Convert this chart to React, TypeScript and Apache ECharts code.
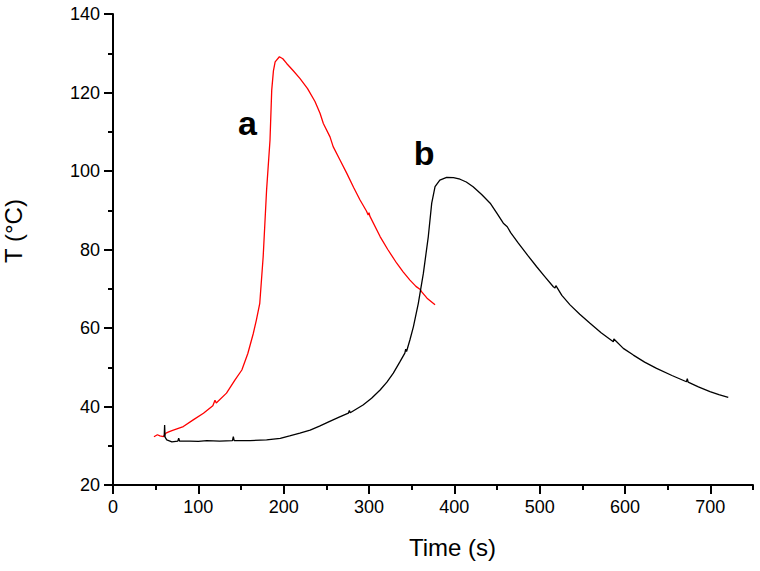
import React, { useEffect, useRef } from "react";
import * as echarts from "echarts";

const xMajorTicks = [0, 100, 200, 300, 400, 500, 600, 700];
const yTicks = [20, 40, 60, 80, 100, 120, 140];

// Curve a (red): [time s, T °C]
const seriesA: [number, number][] = [
  [48, 32.3], [52, 32.8], [55, 32.5], [59, 32.3], [62, 33.2], [66, 33.6],
  [70.7, 34.0], [82.4, 34.9], [94, 36.6], [106, 38.3], [117, 40.2], [119.5, 41.6],
  [121, 40.9], [133, 43.4], [143, 46.8], [151, 49.3], [158, 53.5], [164.4, 58.6],
  [168, 62], [172, 66.3], [176, 78.2], [180, 95.2], [184, 107.9], [186, 120.6],
  [188, 125.5], [190, 127.8], [195, 129.1], [199, 128.6], [203.5, 127.4],
  [211, 125.6], [219, 123.6], [228, 121], [236.7, 117.7], [242.6, 114.7],
  [246.5, 112.1], [254.3, 108.7], [258, 106.2], [266, 102.8], [274, 99.4],
  [282, 95.8], [289.5, 92.6], [297, 89.8], [299, 88.8], [300, 89.4], [301, 88.5],
  [313, 83.3], [322, 80], [332.5, 76.5], [340, 74.3], [348, 72.2], [355, 70.6],
  [360, 69.8], [361.8, 69.2], [368, 67.6], [377.4, 65.9]
];

// Curve b (black): [time s, T °C]
const seriesB: [number, number][] = [
  [60, 32.3], [60.5, 35.3], [61, 32.2], [63, 31.5], [69, 31.0], [76, 31.2],
  [77, 31.9], [78, 31.2], [90, 31.2], [100, 31.1], [110, 31.3], [125, 31.2],
  [140, 31.3], [141, 32.3], [142, 31.3], [160.5, 31.3], [180, 31.5], [196, 31.9],
  [207, 32.5], [219, 33.2], [231, 34.0], [242, 35.0], [254, 36.2], [265, 37.3],
  [275.8, 38.3], [277, 39], [278, 38.4], [293, 40.4], [303, 42.1], [313, 44.2],
  [321, 46.2], [328.5, 48.5], [336, 51.3], [342, 53.6], [343, 54.6], [344, 54],
  [348, 57], [352, 60.3], [357.8, 66.3], [363.7, 73.9], [369.5, 83.3],
  [373.5, 91.8], [377.4, 96.0], [383, 97.7], [391, 98.4], [399, 98.3],
  [406.7, 97.9], [414, 97.2], [422, 96.0], [432, 94.0], [442, 91.8],
  [450, 89.2], [457.4, 86.7], [462, 85.8], [466, 84.3], [475, 81.6],
  [486, 78.5], [496.5, 75.6], [506, 73.1], [516, 70.5], [518, 70.2], [519, 70.8],
  [526, 68.3], [535.6, 65.9], [547, 63.5], [559, 61.2], [572, 58.8],
  [586.3, 56.5], [587, 57.2], [598, 54.8], [609.8, 53.1], [623, 51.3],
  [637, 49.7], [655, 47.9], [672, 46.3], [673, 47.1], [674, 46.2],
  [686, 45.0], [699.6, 43.8], [710, 43.0], [721, 42.3]
];

const labelA: [number, number] = [157.6, 112.2];
const labelB: [number, number] = [364.5, 104.5];

const FONT = "Liberation Sans, Arial, sans-serif";

export default function App() {
  const ref = useRef<HTMLDivElement>(null);

  useEffect(() => {
    document.body.style.margin = "0";
    if (!ref.current) return;
    const chart = echarts.init(ref.current, undefined, { renderer: "svg" });
    const axisLineStyle = { color: "#000", width: 2 };
    chart.setOption({
      animation: false,
      backgroundColor: "#fff",
      grid: {
        left: 113,
        right: 7,
        top: 14,
        bottom: 86,
        containLabel: false,
        outerBoundsMode: "none",
      },
      xAxis: [
        {
          type: "value",
          min: 0,
          max: 750,
          interval: 100,
          name: "Time (s)",
          nameLocation: "middle",
          nameGap: 50,
          nameTextStyle: {
            fontFamily: FONT,
            fontSize: 24,
            color: "#000",
            padding: [0, 0, 0, 39],
          },
          axisLine: { show: true, lineStyle: axisLineStyle },
          axisTick: {
            show: true,
            length: 9,
            lineStyle: { color: "#000", width: 2 },
            customValues: xMajorTicks,
          },
          axisLabel: {
            fontFamily: FONT,
            fontSize: 18,
            color: "#000",
            margin: 13,
            customValues: xMajorTicks,
          },
          splitLine: { show: false },
        },
        {
          type: "value",
          min: 0,
          max: 750,
          interval: 50,
          position: "bottom",
          axisLine: { show: false },
          axisTick: { show: true, length: 5, lineStyle: { color: "#000", width: 2 } },
          axisLabel: { show: false },
          splitLine: { show: false },
        },
      ],
      yAxis: {
        type: "value",
        min: 20,
        max: 140,
        interval: 20,
        name: "T (°C)",
        nameLocation: "middle",
        nameGap: 88,
        nameTextStyle: {
          fontFamily: FONT,
          fontSize: 24,
          color: "#000",
          padding: [0, 0, 0, 37],
        },
        axisLine: { show: true, lineStyle: axisLineStyle },
        axisTick: { show: true, length: 9, lineStyle: { color: "#000", width: 2 } },
        minorTick: { show: true, splitNumber: 2, length: 5, lineStyle: { color: "#000", width: 2 } },
        axisLabel: {
          fontFamily: FONT,
          fontSize: 18,
          color: "#000",
          margin: 13,
          customValues: yTicks,
        },
        splitLine: { show: false },
        minorSplitLine: { show: false },
      },
      series: [
        {
          name: "a",
          type: "line",
          data: seriesA,
          showSymbol: false,
          symbol: "none",
          lineStyle: { color: "#ff0000", width: 1.3 },
          markPoint: {
            symbol: "circle",
            symbolSize: 0,
            data: [{ coord: labelA }],
            label: {
              show: true,
              position: "inside",
              formatter: "a",
              fontFamily: FONT,
              fontWeight: "bold",
              fontSize: 34,
              color: "#000",
            },
          },
        },
        {
          name: "b",
          type: "line",
          data: seriesB,
          showSymbol: false,
          symbol: "none",
          lineStyle: { color: "#000", width: 1.3 },
          markPoint: {
            symbol: "circle",
            symbolSize: 0,
            data: [{ coord: labelB }],
            label: {
              show: true,
              position: "inside",
              formatter: "b",
              fontFamily: FONT,
              fontWeight: "bold",
              fontSize: 34,
              color: "#000",
            },
          },
        },
      ],
    });
    return () => chart.dispose();
  }, []);

  return <div ref={ref} style={{ width: 760, height: 571 }} />;
}
